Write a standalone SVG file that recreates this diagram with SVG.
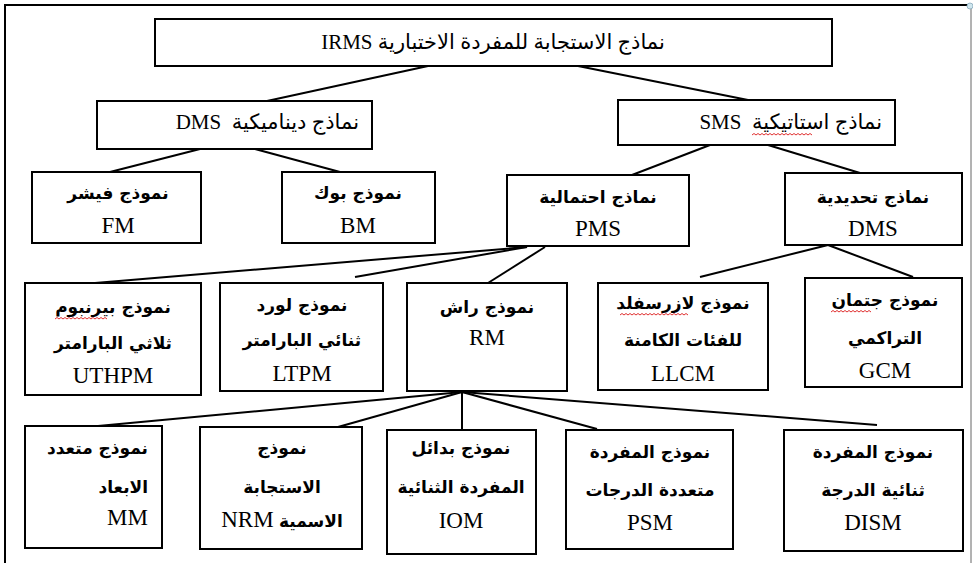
<svg xmlns="http://www.w3.org/2000/svg" width="973" height="563" viewBox="0 0 973 563">
<style>
.box{fill:#fff;stroke:#000;stroke-width:2}
.ln{stroke:#000;stroke-width:2;fill:none}
text{font-family:"Liberation Serif","DejaVu Sans",serif;fill:#000}
.ar{font-size:17px;font-family:"DejaVu Sans","Liberation Serif",sans-serif;font-weight:bold}
.la{font-size:23px}
.mix{font-size:21px}
.c{text-anchor:middle}
.e{text-anchor:end}
.wavy{stroke:#e03030;stroke-width:1;fill:none}
</style>
<rect width="973" height="563" fill="#fff"/>
<g id="frame">
<line x1="4" y1="5" x2="970" y2="5" stroke="#000" stroke-width="2"/>
<line x1="5" y1="4" x2="5" y2="563" stroke="#000" stroke-width="2"/>
<line x1="971" y1="5" x2="971" y2="563" stroke="#666" stroke-width="1"/>
<circle cx="970" cy="6" r="3" fill="#cfe6ee" stroke="#8ab" stroke-width="0.8"/>
</g>
<g id="connectors">
<line class="ln" x1="428" y1="66" x2="267" y2="101"/>
<line class="ln" x1="578" y1="66" x2="748" y2="100"/>
<line class="ln" x1="200" y1="149" x2="110" y2="172"/>
<line class="ln" x1="255" y1="149" x2="340" y2="172"/>
<line class="ln" x1="710" y1="145" x2="632" y2="175"/>
<line class="ln" x1="768" y1="145" x2="860" y2="173"/>
<line class="ln" x1="527" y1="247" x2="95" y2="283"/>
<line class="ln" x1="527" y1="247" x2="355" y2="277"/>
<line class="ln" x1="545" y1="247" x2="488" y2="283"/>
<line class="ln" x1="828" y1="245" x2="700" y2="277"/>
<line class="ln" x1="828" y1="245" x2="913" y2="277"/>
<line class="ln" x1="462" y1="392" x2="98" y2="426"/>
<line class="ln" x1="462" y1="392" x2="338" y2="427"/>
<line class="ln" x1="462" y1="392" x2="462" y2="430"/>
<line class="ln" x1="462" y1="392" x2="597" y2="429"/>
<line class="ln" x1="462" y1="392" x2="877" y2="425"/>
</g>
<g id="irms">
<rect class="box" x="155" y="19" width="677" height="47"/>
<text class="mix c" x="493" y="49">IRMS نماذج الاستجابة للمفردة الاختبارية</text>
</g>
<g id="dyn">
<rect class="box" x="97" y="101" width="275" height="48"/>
<text class="mix e" x="359" y="129">DMS&#160; نماذج ديناميكية</text>
</g>
<g id="sms">
<rect class="box" x="618" y="100" width="277" height="45"/>
<text class="mix e" x="882" y="129">SMS&#160; نماذج استاتيكية</text>
<path class="wavy" d="M752,135 l2,-1.5 l2,1.5 l2,-1.5 l2,1.5 l2,-1.5 l2,1.5 l2,-1.5 l2,1.5 l2,-1.5 l2,1.5 l2,-1.5 l2,1.5 l2,-1.5 l2,1.5 l2,-1.5 l2,1.5 l2,-1.5 l2,1.5 l2,-1.5 l2,1.5 l2,-1.5 l2,1.5 l2,-1.5 l2,1.5 l2,-1.5 l2,1.5 l2,-1.5 l2,1.5 l2,-1.5 l2,1.5"/>
</g>
<g id="fm">
<rect class="box" x="32" y="172" width="169" height="71"/>
<text class="ar c" x="118" y="199">نموذج فيشر</text>
<text class="la c" x="118" y="233">FM</text>
</g>
<g id="bm">
<rect class="box" x="282" y="172" width="153" height="71"/>
<text class="ar c" x="358" y="199">نموذج بوك</text>
<text class="la c" x="358" y="233">BM</text>
</g>
<g id="pms">
<rect class="box" x="507" y="175" width="182" height="71"/>
<text class="ar c" x="598" y="203">نماذج احتمالية</text>
<text class="la c" x="598" y="236">PMS</text>
</g>
<g id="det">
<rect class="box" x="785" y="173" width="177" height="72"/>
<text class="ar c" x="873" y="203">نماذج تحديدية</text>
<text class="la c" x="873" y="236">DMS</text>
</g>
<g id="uthpm">
<rect class="box" x="25" y="283" width="176" height="112"/>
<text class="ar c" x="113" y="313">نموذج بيرنبوم</text>
<path class="wavy" d="M55,319 l2,-1.5 l2,1.5 l2,-1.5 l2,1.5 l2,-1.5 l2,1.5 l2,-1.5 l2,1.5 l2,-1.5 l2,1.5 l2,-1.5 l2,1.5 l2,-1.5 l2,1.5 l2,-1.5 l2,1.5 l2,-1.5 l2,1.5 l2,-1.5 l2,1.5 l2,-1.5 l2,1.5 l2,-1.5 l2,1.5 l2,-1.5 l2,1.5"/>
<text class="ar c" x="113" y="349">ثلاثي البارامتر</text>
<text class="la c" x="113" y="383">UTHPM</text>
</g>
<g id="ltpm">
<rect class="box" x="220" y="283" width="163" height="108"/>
<text class="ar c" x="302" y="311">نموذج لورد</text>
<text class="ar c" x="302" y="346">ثنائي البارامتر</text>
<text class="la c" x="302" y="381">LTPM</text>
</g>
<g id="rm">
<rect class="box" x="407" y="283" width="160" height="108"/>
<text class="ar c" x="487" y="313">نموذج راش</text>
<text class="la c" x="487" y="345">RM</text>
</g>
<g id="llcm">
<rect class="box" x="598" y="283" width="170" height="107"/>
<text class="ar c" x="683" y="309">نموذج لازرسفلد</text>
<path class="wavy" d="M620,315 l2,-1.5 l2,1.5 l2,-1.5 l2,1.5 l2,-1.5 l2,1.5 l2,-1.5 l2,1.5 l2,-1.5 l2,1.5 l2,-1.5 l2,1.5 l2,-1.5 l2,1.5 l2,-1.5 l2,1.5 l2,-1.5 l2,1.5 l2,-1.5 l2,1.5 l2,-1.5 l2,1.5 l2,-1.5 l2,1.5 l2,-1.5 l2,1.5 l2,-1.5 l2,1.5 l2,-1.5 l2,1.5 l2,-1.5 l2,1.5 l2,-1.5 l2,1.5"/>
<text class="ar c" x="683" y="346">للفئات الكامنة</text>
<text class="la c" x="683" y="381">LLCM</text>
</g>
<g id="gcm">
<rect class="box" x="805" y="278" width="157" height="109"/>
<text class="ar c" x="885" y="306">نموذج جتمان</text>
<path class="wavy" d="M831,312 l2,-1.5 l2,1.5 l2,-1.5 l2,1.5 l2,-1.5 l2,1.5 l2,-1.5 l2,1.5 l2,-1.5 l2,1.5 l2,-1.5 l2,1.5 l2,-1.5 l2,1.5 l2,-1.5 l2,1.5 l2,-1.5 l2,1.5 l2,-1.5 l2,1.5"/>
<text class="ar c" x="885" y="344">التراكمي</text>
<text class="la c" x="885" y="378">GCM</text>
</g>
<g id="mm">
<rect class="box" x="25" y="426" width="137" height="122"/>
<text class="ar e" x="148" y="454">نموذج متعدد</text>
<text class="ar e" x="148" y="493">الابعاد</text>
<text class="la e" x="148" y="525">MM</text>
</g>
<g id="nrm">
<rect class="box" x="200" y="427" width="162" height="122"/>
<text class="ar c" x="282" y="454">نموذج</text>
<text class="ar c" x="282" y="493">الاستجابة</text>
<text class="mix c" x="282" y="527"><tspan font-size="23">NRM</tspan> <tspan font-family="DejaVu Sans" font-size="17" font-weight="bold">الاسمية</tspan></text>
</g>
<g id="iom">
<rect class="box" x="387" y="430" width="149" height="124"/>
<text class="ar c" x="461" y="454">نموذج بدائل</text>
<text class="ar c" x="461" y="493">المفردة الثنائية</text>
<text class="la c" x="461" y="528">IOM</text>
</g>
<g id="psm">
<rect class="box" x="566" y="430" width="167" height="119"/>
<text class="ar c" x="650" y="458">نموذج المفردة</text>
<text class="ar c" x="650" y="496">متعددة الدرجات</text>
<text class="la c" x="650" y="530">PSM</text>
</g>
<g id="dism">
<rect class="box" x="784" y="430" width="179" height="121"/>
<text class="ar c" x="873" y="458">نموذج المفردة</text>
<text class="ar c" x="873" y="496">ثنائية الدرجة</text>
<text class="la c" x="873" y="530">DISM</text>
</g>
</svg>
